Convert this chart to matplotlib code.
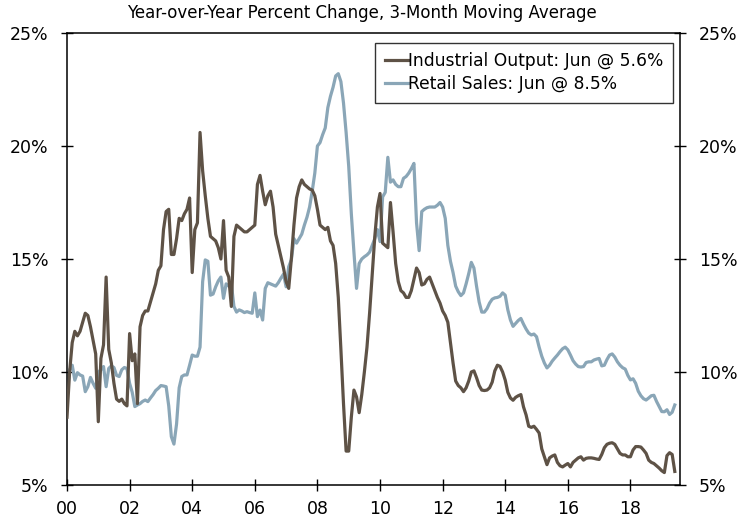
import matplotlib
matplotlib.use("Agg")
import matplotlib.pyplot as plt
import numpy as np

# Monthly data, Jan 2000 .. Jun 2019 (3-month moving average, YoY %)
industrial_output = [
    8.0, 10.0, 11.3, 11.8, 11.6, 11.8, 12.2, 12.6, 12.5, 12.0, 11.4, 10.8,   # 2000
    7.8, 10.6, 11.2, 14.2, 11.0, 10.4, 9.5, 8.8, 8.7, 8.8, 8.6, 8.5,         # 2001
    11.7, 10.5, 10.8, 8.6, 12.0, 12.5, 12.7, 12.7, 13.1, 13.5, 13.9, 14.5,   # 2002
    14.7, 16.3, 17.1, 17.2, 15.2, 15.2, 15.9, 16.8, 16.7, 17.0, 17.2, 17.7,  # 2003
    14.4, 16.3, 16.6, 20.6, 18.9, 17.8, 16.8, 16.0, 15.9, 15.8, 15.5, 15.0,  # 2004
    16.7, 14.5, 14.2, 12.9, 16.0, 16.5, 16.4, 16.3, 16.2, 16.2, 16.3, 16.4,  # 2005
    16.5, 18.3, 18.7, 18.0, 17.4, 17.8, 18.0, 17.3, 16.1, 15.6, 15.1, 14.6,  # 2006
    14.0, 13.7, 15.0, 16.5, 17.7, 18.2, 18.5, 18.3, 18.2, 18.1, 18.05, 17.8, # 2007
    17.2, 16.5, 16.4, 16.3, 16.4, 15.8, 15.6, 14.8, 13.3, 11.0, 8.6, 6.5,    # 2008
    6.5, 8.0, 9.2, 8.9, 8.2, 9.0, 10.0, 11.1, 12.6, 14.3, 16.0, 17.3,        # 2009
    17.9, 15.7, 15.6, 15.5, 17.5, 16.2, 14.8, 14.0, 13.6, 13.5, 13.3, 13.3,  # 2010
    13.6, 14.1, 14.6, 14.4, 13.85, 13.9, 14.1, 14.2, 13.9, 13.6, 13.3, 13.05,# 2011
    12.7, 12.5, 12.2, 11.3, 10.4, 9.6, 9.4, 9.3, 9.13, 9.3, 9.6, 10.0,      # 2012
    10.05, 9.75, 9.4, 9.2, 9.18, 9.2, 9.3, 9.55, 10.05, 10.3, 10.25, 10.0,   # 2013
    9.64, 9.1, 8.85, 8.75, 8.88, 8.95, 9.0, 8.46, 8.1, 7.6, 7.55, 7.6,       # 2014
    7.46, 7.3, 6.6, 6.25, 5.9, 6.2, 6.28, 6.33, 6.0, 5.85, 5.8, 5.88,        # 2015
    5.95, 5.8, 6.0, 6.1, 6.2, 6.25, 6.1, 6.18, 6.2, 6.2, 6.18, 6.15,         # 2016
    6.13, 6.35, 6.65, 6.8, 6.85, 6.87, 6.8, 6.6, 6.4, 6.33, 6.33, 6.25,      # 2017
    6.25, 6.55, 6.7, 6.7, 6.68, 6.55, 6.4, 6.1, 6.0, 5.95, 5.85, 5.75,       # 2018
    5.63, 5.55, 6.3, 6.43, 6.35, 5.6,                                        # 2019
]

retail_sales = [
    9.06, 10.1, 10.3, 9.64, 9.97, 9.87, 9.82, 9.13, 9.35, 9.76, 9.5, 9.28,   # 2000
    10.0, 10.1, 10.24, 9.35, 10.16, 10.27, 10.2, 9.85, 9.8, 10.1, 10.2, 10.15,  # 2001
    9.5, 9.1, 8.47, 8.54, 8.6, 8.7, 8.76, 8.69, 8.85, 9.0, 9.18, 9.28,      # 2002
    9.4, 9.38, 9.35, 8.5, 7.14, 6.81, 7.7, 9.3, 9.8, 9.87, 9.87, 10.3,       # 2003
    10.75, 10.7, 10.7, 11.1, 14.0, 14.96, 14.9, 13.4, 13.45, 13.77, 14.03, 14.2,  # 2004
    13.26, 13.9, 13.8, 13.9, 12.9, 12.65, 12.75, 12.7, 12.63, 12.67, 12.63, 12.6,  # 2005
    13.5, 12.45, 12.74, 12.3, 13.7, 13.95, 13.9, 13.85, 13.8, 13.95, 14.15, 14.33,  # 2006
    13.77, 14.66, 14.96, 15.9, 15.7, 15.9, 16.1, 16.5, 16.85, 17.3, 18.0, 18.8,   # 2007
    20.0, 20.15, 20.5, 20.8, 21.7, 22.2, 22.6, 23.1, 23.2, 22.85, 21.9, 20.6,   # 2008
    19.1, 17.0, 15.3, 13.7, 14.8, 15.0, 15.1, 15.18, 15.3, 15.6, 15.9, 16.3,   # 2009
    15.77, 17.75, 17.95, 19.5, 18.4, 18.5, 18.3, 18.2, 18.2, 18.57, 18.65, 18.8,  # 2010
    19.0, 19.23, 16.6, 15.37, 17.1, 17.2, 17.27, 17.3, 17.3, 17.3, 17.38, 17.5,  # 2011
    17.3, 16.8, 15.6, 14.9, 14.4, 13.8, 13.55, 13.38, 13.5, 13.9, 14.35, 14.85,  # 2012
    14.6, 13.8, 13.1, 12.65, 12.65, 12.8, 13.05, 13.22, 13.28, 13.3, 13.35, 13.5,  # 2013
    13.4, 12.75, 12.3, 12.02, 12.15, 12.28, 12.37, 12.12, 11.9, 11.72, 11.64, 11.68,  # 2014
    11.56, 11.1, 10.7, 10.4, 10.18, 10.3, 10.48, 10.62, 10.75, 10.9, 11.03, 11.1,  # 2015
    10.98, 10.75, 10.5, 10.35, 10.24, 10.22, 10.24, 10.42, 10.45, 10.45, 10.53, 10.57,  # 2016
    10.6, 10.27, 10.3, 10.55, 10.75, 10.8, 10.66, 10.45, 10.3, 10.19, 10.13, 9.85,  # 2017
    9.65, 9.7, 9.5, 9.15, 8.95, 8.82, 8.76, 8.85, 8.95, 8.97, 8.7, 8.47,    # 2018
    8.25, 8.24, 8.33, 8.12, 8.22, 8.54,                                     # 2019
]

tick_labels = ["00", "02", "04", "06", "08", "10", "12", "14", "16", "18"]
y_ticks = [5, 10, 15, 20, 25]
legend_labels = ["Industrial Output: Jun @ 5.6%", "Retail Sales: Jun @ 8.5%"]
subtitle = "Year-over-Year Percent Change, 3-Month Moving Average"

brown = "#5E5246"
blue = "#8AA6B7"

plt.rcParams["font.family"] = ["DejaVu Sans"]

fig = plt.figure(figsize=(7.51, 5.18), dpi=100)
ax = fig.add_axes([67/751, 1-485/518, 613/751, 452/518])

months_io = np.arange(len(industrial_output))
months_rs = np.arange(len(retail_sales))
ax.plot(months_io, industrial_output, color=brown, lw=2.3, label=legend_labels[0],
        solid_joinstyle="round", zorder=3)
ax.plot(months_rs, retail_sales, color=blue, lw=2.3, label=legend_labels[1],
        solid_joinstyle="round", zorder=2)

ax.set_xlim(0, 235)
ax.set_ylim(5, 25)
ax.set_xticks(np.arange(len(tick_labels)) * 24)
ax.set_xticklabels(tick_labels)
ax.set_yticks(y_ticks)
ax.set_yticklabels([f"{v}%" for v in y_ticks])
ax.tick_params(axis="both", direction="inout", length=8, width=1, labelsize=12.5, colors="black")
ax.tick_params(axis="y", right=True, labelright=True, pad=9.5)
ax.tick_params(axis="x", pad=6.5)
for s in ax.spines.values():
    s.set_linewidth(1.1)
    s.set_color("black")

leg = ax.legend(loc="upper right", bbox_to_anchor=(0.989, 0.978), fontsize=12.3,
                frameon=True, fancybox=False, edgecolor="black", handlelength=1.4,
                handletextpad=0.0, borderpad=0.55, labelspacing=0.3, borderaxespad=0)
leg.get_frame().set_linewidth(1.0)

fig.text(0.482, 1-13/518, subtitle, ha="center", va="center", fontsize=12)

fig.savefig("out.png", dpi=100)
